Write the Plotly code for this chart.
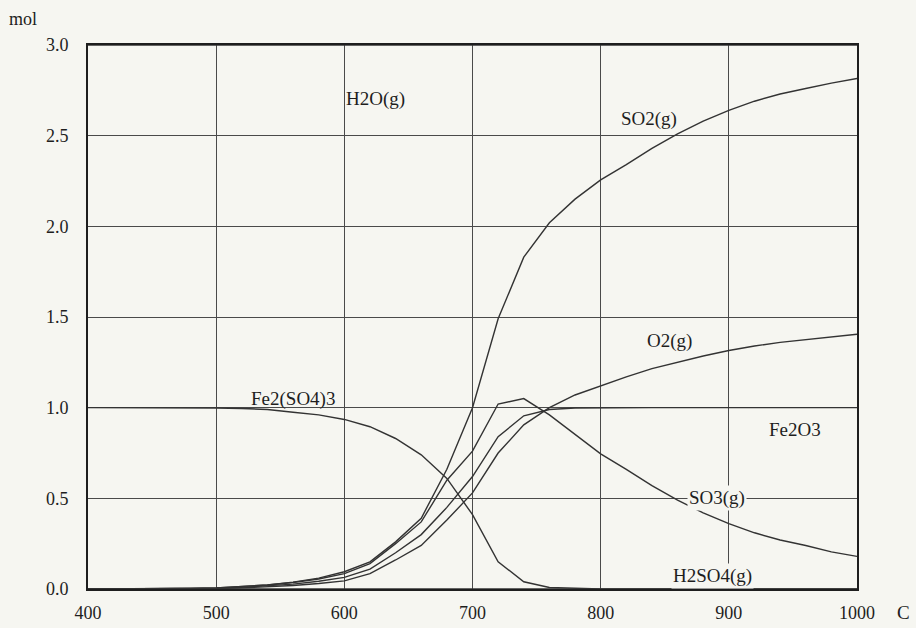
import plotly.graph_objects as go

# Temperature (C)
temps = [400, 420, 440, 460, 480, 500, 520, 540, 560, 580, 600, 620, 640, 660, 680,
         700, 720, 740, 760, 780, 800, 820, 840, 860, 880, 900, 920, 940, 960, 980, 1000]

h2o = [3.0] * 31
so2 = [0.0, 0.0, 0.001, 0.002, 0.003, 0.006, 0.012, 0.022, 0.038, 0.06, 0.095, 0.15,
       0.26, 0.39, 0.66, 1.0, 1.49, 1.83, 2.02, 2.15, 2.256, 2.34, 2.43, 2.51, 2.58,
       2.64, 2.69, 2.73, 2.76, 2.79, 2.815]
so3 = [0.0, 0.0, 0.001, 0.002, 0.003, 0.006, 0.012, 0.022, 0.036, 0.055, 0.085, 0.14,
       0.25, 0.37, 0.60, 0.76, 1.02, 1.05, 0.96, 0.85, 0.745, 0.66, 0.57, 0.49, 0.42,
       0.36, 0.31, 0.27, 0.24, 0.205, 0.18]
fe2o3 = [0.0, 0.0, 0.0, 0.001, 0.002, 0.004, 0.009, 0.016, 0.027, 0.043, 0.064, 0.11,
         0.2, 0.3, 0.45, 0.62, 0.84, 0.955, 0.99, 0.998, 1.0, 1.0, 1.0, 1.0, 1.0,
         1.0, 1.0, 1.0, 1.0, 1.0, 1.0]
o2 = [0.0, 0.0, 0.0, 0.001, 0.001, 0.003, 0.006, 0.011, 0.019, 0.03, 0.045, 0.085,
      0.16, 0.24, 0.38, 0.53, 0.75, 0.905, 1.0, 1.07, 1.12, 1.17, 1.215, 1.25, 1.285,
      1.315, 1.34, 1.36, 1.375, 1.39, 1.405]
fe2so43 = [1.0, 1.0, 1.0, 1.0, 0.999, 0.998, 0.995, 0.99, 0.975, 0.96, 0.935, 0.895,
           0.83, 0.74, 0.61, 0.41, 0.15, 0.04, 0.008, 0.002, 0.0, 0.0, 0.0, 0.0, 0.0,
           0.0, 0.0, 0.0, 0.0, 0.0, 0.0]
h2so4 = [0.0] * 31

x_ticks = [400, 500, 600, 700, 800, 900, 1000]
y_ticks = [0.0, 0.5, 1.0, 1.5, 2.0, 2.5, 3.0]
y_tick_text = ["0.0", "0.5", "1.0", "1.5", "2.0", "2.5", "3.0"]

labels = ["H2O(g)", "SO2(g)", "O2(g)", "Fe2(SO4)3", "Fe2O3", "SO3(g)", "H2SO4(g)"]
label_x = [624, 838, 854, 560, 952, 891, 887]
label_y = [2.70, 2.59, 1.37, 1.05, 0.88, 0.50, 0.07]
label_bg = [False, False, False, False, False, True, True]

BG = "#f6f6f1"
LINE = "#333333"
FONT = "Liberation Serif"

fig = go.Figure()
for name, ys in [("H2O(g)", h2o), ("SO2(g)", so2), ("SO3(g)", so3), ("Fe2O3", fe2o3),
                 ("O2(g)", o2), ("Fe2(SO4)3", fe2so43), ("H2SO4(g)", h2so4)]:
    fig.add_trace(go.Scatter(x=temps, y=ys, mode="lines", name=name,
                             line=dict(color=LINE, width=1.4), showlegend=False,
                             hoverinfo="skip"))

for t, lx, ly, bg in zip(labels, label_x, label_y, label_bg):
    fig.add_annotation(x=lx, y=ly, text=t, showarrow=False,
                       font=dict(family=FONT, size=19, color="#1e1e1e"),
                       bgcolor=BG if bg else "rgba(0,0,0,0)", borderpad=1)

fig.add_annotation(xref="paper", yref="paper", x=-0.105, y=1.07, text="mol",
                   showarrow=False, xanchor="left",
                   font=dict(family=FONT, size=18, color="#1e1e1e"))
fig.add_annotation(xref="paper", yref="paper", x=1.06, y=-0.044, text="C",
                   showarrow=False, xanchor="center", yanchor="middle",
                   font=dict(family=FONT, size=19, color="#1e1e1e"))

fig.update_layout(
    width=916, height=628,
    margin=dict(l=88, r=59, t=45, b=39, autoexpand=False),
    paper_bgcolor=BG, plot_bgcolor=BG,
    font=dict(family=FONT, size=18, color="#1e1e1e"),
    xaxis=dict(range=[400, 1000], tickvals=x_ticks, showgrid=True, automargin=False,
               gridcolor="#4a4a4a", gridwidth=1, zeroline=False,
               showline=True, linecolor="#1e1e1e", linewidth=2, mirror=True,
               ticks="outside", ticklen=6, tickcolor="rgba(0,0,0,0)"),
    yaxis=dict(range=[0, 3], tickvals=y_ticks, ticktext=y_tick_text, showgrid=True,
               automargin=False,
               gridcolor="#4a4a4a", gridwidth=1, zeroline=False,
               showline=True, linecolor="#1e1e1e", linewidth=2, mirror=True,
               ticks="outside", ticklen=14, tickcolor="rgba(0,0,0,0)"),
)

fig.write_html("out.html", config={"displayModeBar": False},
               post_script="document.body.style.margin='0';document.body.style.overflow='hidden';")
